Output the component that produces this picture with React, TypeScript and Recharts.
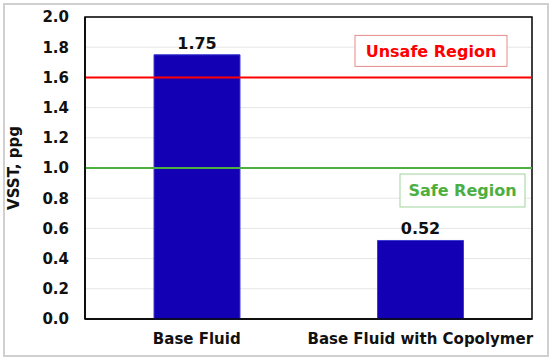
import { BarChart, Bar, XAxis, YAxis, CartesianGrid, ReferenceLine, ReferenceArea, LabelList, Label } from 'recharts';

// Datos
const fluids = ['Base Fluid', 'Base Fluid with Copolymer'];
const vsst = [1.75, 0.52];
const yTicks = [0, 0.2, 0.4, 0.6, 0.8, 1.0, 1.2, 1.4, 1.6, 1.8, 2.0];
const unsafeLimit = 1.6;
const safeLimit = 1.0;

const data = fluids.map((name, i) => ({ name, vsst: vsst[i] }));

const FONT = '"DejaVu Sans", Verdana, sans-serif';

// caja con texto junto a la línea de referencia
function RegionBox({ viewBox, text, color, border, dx, dy, w, h }: any) {
  const right = viewBox.x + viewBox.width;
  const x = right - dx;
  const y = viewBox.y + dy;
  return (
    <g>
      <rect x={x} y={y} width={w} height={h} fill="#fff" stroke={border} strokeWidth={1} />
      <text x={x + w / 2} y={y + h / 2} dy="0.36em" textAnchor="middle" fill={color}
        fontFamily={FONT} fontWeight="bold" fontSize={16}>
        {text}
      </text>
    </g>
  );
}

export default function App() {
  return (
    <div style={{ position: 'absolute', left: 0, top: 0, width: 550, height: 358, background: '#fff' }}>
      <div style={{ position: 'absolute', left: 3, top: 3, width: 542, height: 350, border: '2px solid #d0d0d0' }} />
      <BarChart
        width={550}
        height={358}
        data={data}
        margin={{ top: 17, right: 18, left: 0, bottom: 9 }}
        barCategoryGap={0}
      >
        <CartesianGrid vertical={false} stroke="#e6e6e6" strokeWidth={1} />
        <XAxis
          dataKey="name"
          axisLine={{ stroke: '#000', strokeWidth: 1.5 }}
          tickLine={false}
          tickSize={0}
          tickMargin={14}
          height={30}
          interval={0}
          tick={{ fill: '#111', fontSize: 15, fontWeight: 'bold', fontFamily: FONT }}
        />
        <YAxis
          domain={[0, 2]}
          ticks={yTicks}
          tickFormatter={(v: number) => v.toFixed(1)}
          width={85}
          axisLine={{ stroke: '#000', strokeWidth: 1.5 }}
          tickLine={false}
          tickSize={0}
          tickMargin={16}
          tick={{ fill: '#111', fontSize: 15, fontWeight: 'bold', fontFamily: FONT }}
        >
          <Label value="VSST, ppg" angle={-90} position="insideLeft" offset={14}
            style={{ textAnchor: 'middle', fill: '#111', fontSize: 15, fontWeight: 'bold', fontFamily: FONT }} />
        </YAxis>
        <Bar dataKey="vsst" fill="#1400B4" stroke="#3c3cd2" strokeWidth={1} barSize={86} isAnimationActive={false}>
          <LabelList dataKey="vsst" position="top" offset={6} formatter={(v: number) => v.toFixed(2)}
            style={{ fill: '#111', fontSize: 16, fontWeight: 'bold', fontFamily: FONT }} />
        </Bar>
        <ReferenceArea y1={0} y2={2} fill="none" fillOpacity={0} stroke="#000" strokeWidth={1.5} ifOverflow="visible" />
        <ReferenceLine y={unsafeLimit} stroke="#ff0000" strokeWidth={2}
          label={(p: any) => <RegionBox {...p} text="Unsafe Region" color="#ff0000" border="#e88a8a" dx={177} dy={-42} w={152} h={31} />} />
        <ReferenceLine y={safeLimit} stroke="#4caf3f" strokeWidth={2}
          label={(p: any) => <RegionBox {...p} text="Safe Region" color="#4caf3f" border="#9ed39a" dx={132} dy={6} w={125} h={33} />} />
      </BarChart>
    </div>
  );
}
